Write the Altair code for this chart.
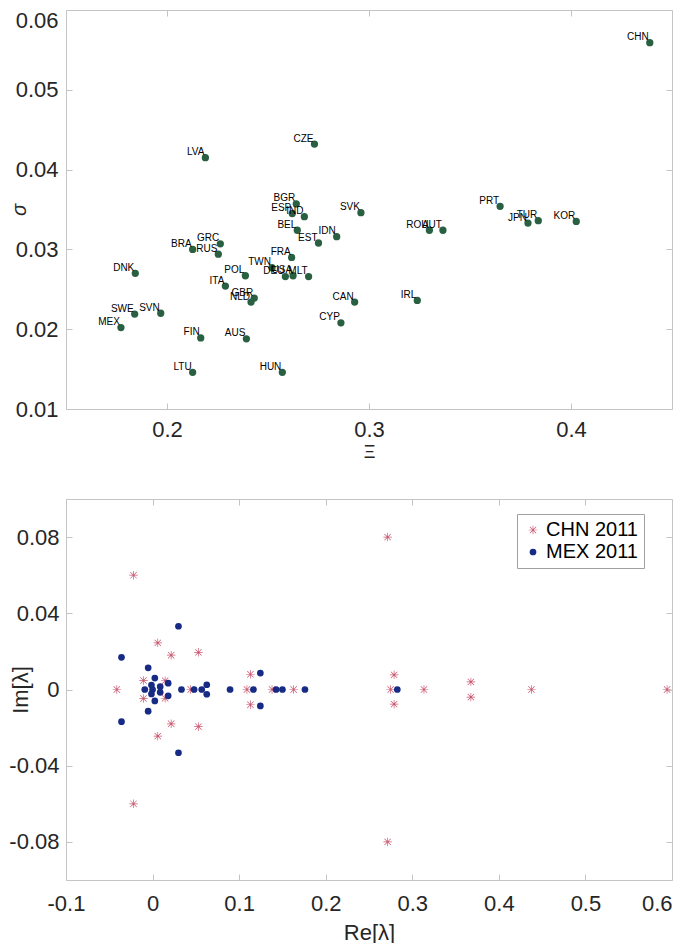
import altair as alt
import pandas as pd

# ---------------- data: top panel ----------------
countries = ["LVA", "CZE", "BGR", "ESP", "IND", "SVK", "BEL", "IDN", "EST", "GRC",
             "BRA", "RUS", "FRA", "DNK", "TWN", "DEU", "USA", "MLT", "POL", "ITA",
             "GBR", "NLD", "CAN", "SWE", "SVN", "MEX", "CYP", "FIN", "AUS", "LTU",
             "HUN", "ROU", "AUT", "PRT", "JPN", "TUR", "KOR", "IRL", "CHN"]
xi_vals = [0.219, 0.273, 0.264, 0.262, 0.268, 0.296, 0.2645, 0.284, 0.275, 0.2264,
           0.2127, 0.2254, 0.2617, 0.1843, 0.2520, 0.2586, 0.2624, 0.2701, 0.2388, 0.2289,
           0.2432, 0.2416, 0.2929, 0.1840, 0.1969, 0.1772, 0.2861, 0.2167, 0.2393, 0.2127,
           0.2571, 0.3299, 0.3366, 0.3649, 0.3787, 0.3838, 0.4026, 0.3239, 0.4390]
sigma_vals = [0.0415, 0.0432, 0.0357, 0.0345, 0.0341, 0.0346, 0.0324, 0.0316, 0.0308, 0.0307,
              0.0300, 0.0294, 0.0290, 0.0270, 0.0277, 0.0266, 0.0267, 0.0266, 0.0267, 0.0254,
              0.0239, 0.0234, 0.0234, 0.0219, 0.0220, 0.0202, 0.0208, 0.0189, 0.0188, 0.0146,
              0.0146, 0.0324, 0.0324, 0.0354, 0.0333, 0.0336, 0.0335, 0.0236, 0.0559]

# ---------------- data: bottom panel ----------------
chn_re = [-0.022, -0.022, 0.2715, 0.2715, 0.006, 0.006, 0.0215, 0.0215, 0.053, 0.053,
          -0.0105, -0.0105, 0.0145, 0.0145, -0.0413, 0.044, 0.109, 0.113, 0.113, 0.138,
          0.163, 0.275, 0.279, 0.279, 0.3135, 0.3677, 0.3677, 0.4377, 0.5943]
chn_im = [0.060, -0.060, 0.080, -0.080, 0.0245, -0.0245, 0.018, -0.018, 0.0195, -0.0195,
          0.0047, -0.0047, 0.0046, -0.0046, 0.0, 0.0, 0.0, 0.008, -0.008, 0.0,
          0.0, 0.0, 0.0077, -0.0077, 0.0, 0.004, -0.004, 0.0, 0.0]
mex_re = [0.0299, 0.0299, -0.0359, -0.0359, -0.0051, -0.0051, 0.0026, 0.0026, -0.0013, -0.0013,
          -0.009, 0.0, 0.0088, 0.0088, 0.018, 0.018, 0.0334, 0.048, 0.0568, 0.0626,
          0.0626, 0.0895, 0.1165, 0.1245, 0.1245, 0.1427, 0.150, 0.176, 0.2827]
mex_im = [0.0332, -0.0332, 0.0169, -0.0169, 0.0114, -0.0114, 0.006, -0.006, 0.0023, -0.0023,
          0.0, 0.0, 0.0015, -0.0015, 0.0033, -0.0033, 0.0, 0.0, 0.0, 0.0025,
          -0.0025, 0.0, 0.0, 0.0086, -0.0086, 0.0, 0.0, 0.0, 0.0]
series_names = ["CHN 2011", "MEX 2011"]

top_x_ticks = [0.2, 0.3, 0.4]
top_y_ticks = [0.01, 0.02, 0.03, 0.04, 0.05, 0.06]
bot_x_ticks = [-0.1, 0.0, 0.1, 0.2, 0.3, 0.4, 0.5, 0.6]
bot_y_ticks = [-0.08, -0.04, 0.0, 0.04, 0.08]

# ---------------- styling ----------------
GREEN = "#2a6042"
RED = "#c9566f"
BLUE = "#172b85"
GRAY = "#c4c4c4"
TXT = "#262626"
FONT = "Liberation Sans"
W, H1, H2 = 606, 399, 381

# asterisk as a filled polygon (union of 4 thin bars)
STAR = ("M-1,-0.08L1,-0.08L1,0.08L-1,0.08Z"
        "M-0.08,-1L0.08,-1L0.08,1L-0.08,1Z"
        "M-0.693,-0.807L0.807,0.693L0.693,0.807L-0.807,-0.693Z"
        "M-0.807,0.693L0.693,-0.807L0.807,-0.693L-0.693,0.807Z")


def main_axis(**kw):
    base = dict(offset=-6, tickSize=6, domain=False, grid=False, tickColor=GRAY,
                labelFont=FONT, labelFontSize=22, labelColor=TXT, labelFlush=False,
                labelOverlap=False, titleFont=FONT, titleColor=TXT,
                titleFontWeight="normal", titleBaseline="middle", titleAlign="center")
    base.update(kw)
    return alt.Axis(**base)


def mirror_axis(orient, values):
    return alt.Axis(orient=orient, values=values, labels=False, title=None, offset=-6,
                    tickSize=6, domain=False, grid=False, tickColor=GRAY)


# ---------------- top panel ----------------
top_df = pd.DataFrame({"xi": xi_vals, "sigma": sigma_vals, "label": countries})
xs1 = alt.Scale(domain=[0.15, 0.45], nice=False, zero=False)
ys1 = alt.Scale(domain=[0.01, 0.06], nice=False, zero=False)

pts1 = alt.Chart(top_df).mark_circle(size=53, color=GREEN, opacity=1).encode(
    x=alt.X("xi:Q", scale=xs1, axis=main_axis(
        orient="bottom", values=top_x_ticks, format=".1f", labelPadding=10,
        title="Ξ", titleFontSize=18, titleX=W / 2, titleY=49)),
    y=alt.Y("sigma:Q", scale=ys1, axis=main_axis(
        orient="left", values=top_y_ticks, format=".2f", labelPadding=8,
        labelBaseline={"condition": {"test": "datum.value > 0.0599", "value": "top"},
                       "value": "middle"},
        title="σ", titleFontSize=20, titleFontStyle="italic",
        titleX=-53, titleY=H1 / 2)),
)

txt1 = alt.Chart(top_df).mark_text(
    align="right", baseline="alphabetic", dx=-1, dy=-2.5, fontSize=10,
    font=FONT, color="black").encode(
    x=alt.X("xi:Q", scale=xs1, axis=mirror_axis("top", top_x_ticks)),
    y=alt.Y("sigma:Q", scale=ys1, axis=mirror_axis("right", top_y_ticks)),
    text="label:N",
)

top = alt.layer(pts1, txt1).resolve_axis(x="independent", y="independent").properties(
    width=W, height=H1)

# ---------------- bottom panel ----------------
bot_df = pd.DataFrame({
    "re": chn_re + mex_re,
    "im": chn_im + mex_im,
    "series": [series_names[0]] * len(chn_re) + [series_names[1]] * len(mex_re),
})
xs2 = alt.Scale(domain=[-0.1, 0.6], nice=False, zero=False)
ys2 = alt.Scale(domain=[-0.1, 0.1], nice=False, zero=False)

leg = alt.Legend(title=None, orient="none", legendX=451, legendY=15, padding=6,
                 strokeColor="#a0a0a0", fillColor="white", labelFont=FONT,
                 labelFontSize=20, labelColor="black", symbolSize=40, labelOffset=3,
                 rowPadding=2, cornerRadius=0)

pts2 = alt.Chart(bot_df).mark_point(filled=True, opacity=1).encode(
    x=alt.X("re:Q", scale=xs2, axis=main_axis(
        orient="bottom", values=bot_x_ticks, labelPadding=13,
        labelExpr="datum.value == 0 ? '0' : (datum.value < 0 ? '-' + format(-datum.value, '.1f') : format(datum.value, '.1f'))",
        labelAlign={"condition": {"test": "datum.value > 0.55", "value": "right"},
                    "value": "center"},
        title="Re[λ]", titleFontSize=22, titleX=W / 2, titleY=58)),
    y=alt.Y("im:Q", scale=ys2, axis=main_axis(
        orient="left", values=bot_y_ticks, labelPadding=7,
        labelExpr="datum.value == 0 ? '0' : (datum.value < 0 ? '-' + format(-datum.value, '.2f') : format(datum.value, '.2f'))",
        title="Im[λ]", titleFontSize=22, titleX=-52, titleY=H2 / 2)),
    color=alt.Color("series:N", scale=alt.Scale(domain=series_names, range=[RED, BLUE]),
                    legend=leg),
    shape=alt.Shape("series:N", scale=alt.Scale(domain=series_names, range=[STAR, "circle"]),
                    legend=leg),
    size=alt.Size("series:N", scale=alt.Scale(domain=series_names, range=[72, 45]),
                  legend=None),
)

mirror2 = alt.Chart(bot_df).mark_point(opacity=0).encode(
    x=alt.X("re:Q", scale=xs2, axis=mirror_axis("top", bot_x_ticks)),
    y=alt.Y("im:Q", scale=ys2, axis=mirror_axis("right", bot_y_ticks)),
)

bottom = alt.layer(pts2, mirror2).resolve_axis(x="independent", y="independent").properties(
    width=W, height=H2)

chart = alt.vconcat(top, bottom, spacing=90, bounds="flush").resolve_legend(
    color="independent", shape="independent", size="independent"
).properties(
    padding=0
).configure_view(stroke=GRAY, strokeWidth=1)

chart.save("out.html", embed_options={"renderer": "svg", "actions": False})
